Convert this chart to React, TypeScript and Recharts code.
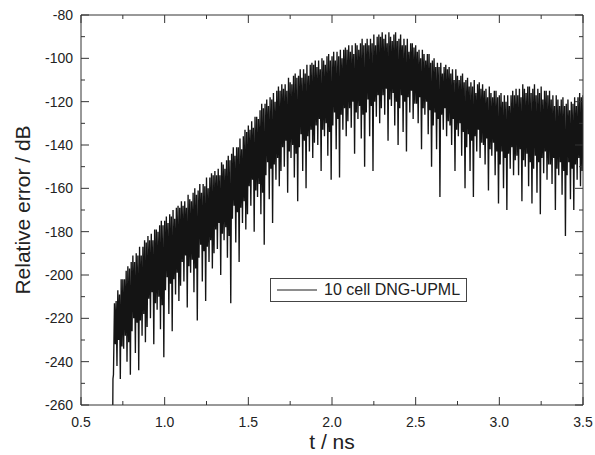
import React from 'react';
import { LineChart, Line, XAxis, YAxis, Legend } from 'recharts';

// axis ticks (majors carry labels, the in-between values are minor ticks)
const xTicks = [0.5, 0.75, 1.0, 1.25, 1.5, 1.75, 2.0, 2.25, 2.5, 2.75, 3.0, 3.25, 3.5];
const yTicks = [-260, -250, -240, -230, -220, -210, -200, -190, -180, -170, -160, -150, -140, -130, -120, -110, -100, -90, -80];

// onset of the error trace
const onsetT = [0.69, 0.691, 0.694];
const onsetDb = [-260, -248, -246];

// sampled oscillation: a crest every tStep ns, a trough half a step later
const tStart = 0.7;
const tStep = 0.01;

const peakDb = [
  -213, -212, -207, -209, -202, -202, -202, -198, -196, -197,
  -194, -191, -194, -190, -191, -187, -191, -187, -184, -185,
  -182, -184, -181, -184, -179, -179, -180, -177, -175, -177,
  -175, -173, -176, -172, -173, -170, -174, -169, -168, -169,
  -166, -168, -166, -169, -163, -165, -166, -162, -160, -163,
  -161, -158, -162, -158, -159, -155, -160, -155, -153, -154,
  -152, -154, -151, -154, -148, -149, -151, -147, -145, -147,
  -144, -141, -145, -141, -141, -137, -142, -136, -133, -134,
  -131, -133, -129, -132, -127, -127, -128, -124, -121, -123,
  -121, -119, -122, -118, -119, -116, -120, -115, -113, -115,
  -112, -114, -112, -115, -109, -111, -112, -108, -107, -109,
  -108, -105, -109, -105, -107, -103, -108, -103, -102, -103,
  -101, -104, -101, -105, -100, -101, -103, -99, -98, -101,
  -99, -97, -101, -97, -99, -96, -100, -96, -95, -96,
  -94, -97, -94, -98, -93, -94, -96, -93, -91, -94,
  -93, -91, -94, -91, -93, -89, -94, -90, -89, -90,
  -88, -91, -89, -93, -88, -90, -92, -89, -88, -92,
  -91, -89, -94, -91, -94, -91, -97, -93, -93, -95,
  -94, -97, -96, -100, -96, -98, -101, -98, -98, -102,
  -101, -100, -104, -102, -104, -102, -107, -104, -103, -105,
  -104, -107, -105, -110, -105, -108, -110, -108, -107, -111,
  -110, -109, -113, -111, -113, -110, -116, -112, -111, -114,
  -112, -115, -114, -118, -113, -116, -118, -115, -115, -118,
  -117, -116, -120, -117, -120, -117, -122, -117, -115, -117,
  -114, -117, -114, -118, -112, -114, -116, -113, -113, -116,
  -114, -112, -117, -114, -116, -113, -119, -115, -115, -117,
  -115, -119, -117, -122, -117, -119, -122, -119, -118, -122,
  -121, -119, -124, -120, -121, -118, -122, -118, -116, -118,
  -117,
];

const dipDb = [
  -232, -242, -230, -248, -233, -234, -228, -240, -231, -246,
  -226, -220, -236, -222, -244, -221, -228, -218, -231, -224,
  -211, -220, -208, -232, -213, -216, -210, -225, -214, -238,
  -207, -201, -218, -204, -226, -202, -209, -199, -212, -205,
  -194, -203, -191, -215, -196, -199, -193, -208, -197, -221,
  -192, -186, -203, -189, -212, -187, -194, -184, -197, -190,
  -179, -188, -176, -200, -181, -184, -178, -192, -182, -213,
  -174, -168, -185, -171, -194, -169, -176, -166, -179, -172,
  -159, -168, -156, -180, -161, -164, -158, -172, -162, -186,
  -154, -148, -165, -151, -176, -149, -156, -146, -159, -152,
  -141, -150, -138, -162, -143, -146, -140, -155, -144, -166,
  -141, -135, -152, -138, -160, -136, -143, -133, -146, -139,
  -131, -140, -128, -152, -133, -136, -130, -145, -134, -156,
  -131, -125, -142, -128, -155, -126, -133, -123, -136, -129,
  -123, -132, -120, -144, -125, -128, -122, -137, -126, -150,
  -125, -119, -136, -122, -152, -120, -127, -117, -130, -123,
  -117, -126, -114, -138, -119, -122, -116, -131, -120, -140,
  -123, -117, -134, -120, -143, -118, -125, -115, -128, -121,
  -121, -130, -118, -142, -123, -126, -120, -135, -124, -150,
  -131, -125, -142, -128, -164, -126, -133, -123, -136, -129,
  -131, -140, -128, -152, -133, -136, -130, -145, -134, -160,
  -141, -135, -152, -138, -164, -136, -143, -133, -146, -139,
  -140, -149, -137, -161, -142, -145, -139, -154, -143, -167,
  -149, -143, -160, -146, -170, -144, -151, -141, -154, -147,
  -145, -154, -142, -166, -147, -150, -144, -159, -148, -167,
  -151, -145, -162, -148, -172, -146, -153, -143, -156, -149,
  -149, -158, -146, -170, -151, -154, -148, -163, -152, -182,
  -154, -148, -165, -151, -170, -149, -156, -146, -159, -152,
];

const rows = [
  ...onsetT.map((t, i) => ({ t, db: onsetDb[i] })),
  ...peakDb.flatMap((p, i) => {
    const t = tStart + i * tStep;
    return i < dipDb.length
      ? [{ t, db: p }, { t: t + tStep / 2, db: dipDb[i] }]
      : [{ t, db: p }];
  }),
];

const FONT = '"Liberation Sans", Arial, Helvetica, sans-serif';
const INK = '#333';

const XTick = (props: any) => {
  const { x, y, payload, side } = props;
  const v = payload.value as number;
  const major = Math.abs(v * 2 - Math.round(v * 2)) < 1e-6;
  const len = major ? 8 : 4;
  const dir = side === 'bottom' ? -1 : 1;
  return (
    <g>
      <line x1={x} x2={x} y1={y} y2={y + dir * len} stroke={INK} strokeWidth={1} />
      {major && side === 'bottom' && (
        <text x={x} y={y + 21.5} textAnchor="middle" fontFamily={FONT} fontSize={14} fill="#222">
          {v.toFixed(1)}
        </text>
      )}
    </g>
  );
};

const YTick = (props: any) => {
  const { x, y, payload, side } = props;
  const v = payload.value as number;
  const major = v % 20 === 0;
  const len = major ? 8 : 4;
  const dir = side === 'left' ? 1 : -1;
  return (
    <g>
      <line x1={x} x2={x + dir * len} y1={y} y2={y} stroke={INK} strokeWidth={1} />
      {major && side === 'left' && (
        <text x={x - 8} y={y + 5} textAnchor="end" fontFamily={FONT} fontSize={14} fill="#222">
          {v}
        </text>
      )}
    </g>
  );
};

const XTitle = () => (
  <text x={332} y={449} textAnchor="middle" fontFamily={FONT} fontSize={21} fill="#222">
    t / ns
  </text>
);

const YTitle = () => (
  <text
    x={22}
    y={210}
    transform="rotate(-90 22 210)"
    textAnchor="middle"
    dominantBaseline="central"
    fontFamily={FONT}
    fontSize={21}
    fill="#222"
  >
    Relative error / dB
  </text>
);

const LegendBox = () => (
  <div
    style={{
      display: 'flex',
      alignItems: 'center',
      height: 22,
      border: '1px solid #444',
      background: '#fff',
      paddingLeft: 6,
      paddingRight: 6,
      fontFamily: FONT,
      fontSize: 16,
      color: '#222',
      whiteSpace: 'nowrap',
    }}
  >
    <svg width={40} height={4}>
      <line x1={0} x2={40} y1={2} y2={2} stroke="#1c1c1c" strokeWidth={1} />
    </svg>
    <span style={{ marginLeft: 7 }}>10 cell DNG-UPML</span>
  </div>
);

export default function App() {
  return (
    <div style={{ position: 'absolute', left: 0, top: 0, background: '#fff' }}>
      <LineChart width={595} height={455} data={rows} margin={{ top: 14, right: 11, bottom: 0, left: 0 }}>
        <XAxis
          dataKey="t"
          type="number"
          domain={[0.5, 3.5]}
          ticks={xTicks}
          interval={0}
          height={50}
          tickSize={0}
          tickMargin={0}
          tickLine={false}
          axisLine={{ stroke: INK }}
          tick={<XTick side="bottom" />}
          allowDataOverflow
          label={<XTitle />}
        />
        <XAxis
          xAxisId="top"
          orientation="top"
          dataKey="t"
          type="number"
          domain={[0.5, 3.5]}
          ticks={xTicks}
          interval={0}
          height={1}
          tickSize={0}
          tickMargin={0}
          tickLine={false}
          axisLine={{ stroke: INK }}
          tick={<XTick side="top" />}
          allowDataOverflow
        />
        <YAxis
          type="number"
          domain={[-260, -80]}
          ticks={yTicks}
          interval={0}
          width={81}
          tickSize={0}
          tickMargin={0}
          tickLine={false}
          axisLine={{ stroke: INK }}
          tick={<YTick side="left" />}
          allowDataOverflow
          label={<YTitle />}
        />
        <YAxis
          yAxisId="right"
          orientation="right"
          type="number"
          domain={[-260, -80]}
          ticks={yTicks}
          interval={0}
          width={1}
          tickSize={0}
          tickMargin={0}
          tickLine={false}
          axisLine={{ stroke: INK }}
          tick={<YTick side="right" />}
          allowDataOverflow
        />
        <Line
          dataKey="db"
          type="linear"
          stroke="#141414"
          strokeWidth={1.35}
          dot={false}
          isAnimationActive={false}
        />
        <Line
          xAxisId="top"
          yAxisId="right"
          dataKey="db"
          type="linear"
          stroke="none"
          dot={false}
          legendType="none"
          isAnimationActive={false}
        />
        <Legend
          layout="horizontal"
          verticalAlign="middle"
          align="center"
          content={<LegendBox />}
          wrapperStyle={{ left: 270, top: 278, width: 'auto' }}
        />
      </LineChart>
    </div>
  );
}
